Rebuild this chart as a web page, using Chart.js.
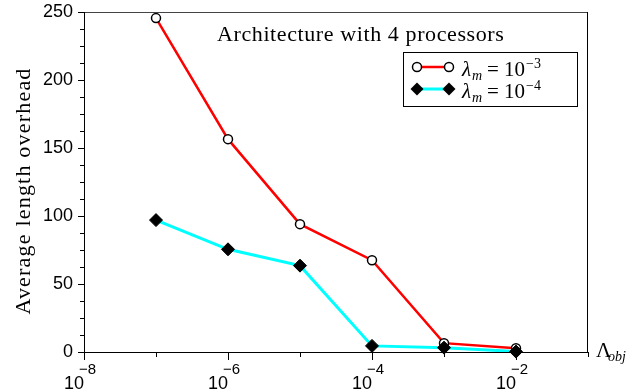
<!DOCTYPE html>
<html>
<head>
<meta charset="utf-8">
<script src="https://cdn.jsdelivr.net/npm/chart.js@4.4.0/dist/chart.umd.min.js"></script>
<style>
  html, body { margin: 0; padding: 0; background: #fff; }
  #c { display: block; }
</style>
</head>
<body>
<canvas id="c" width="630" height="391"></canvas>
<script>
// ---- data ----
const lambdaObj = [1e-7, 1e-6, 1e-5, 1e-4, 1e-3, 1e-2];
const overheadLm3 = [245.5, 156.5, 94, 67.5, 6.5, 2.8];
const overheadLm4 = [97, 75.5, 63.5, 4.5, 3.2, 0.3];
const xTickExponents = [-8, -7, -6, -5, -4, -3, -2, -1];
const xLabelExponents = [-8, -6, -4, -2];
const yTickLabels = [0, 50, 100, 150, 200, 250];
const yMinorStep = 12.5;
const titleText = "Architecture with 4 processors";
const yAxisTitle = "Average length overhead";
const seriesExponents = ["3", "4"];

const SERIF = '"Liberation Serif", "DejaVu Serif", serif';
const SANS = '"Liberation Sans", Arial, sans-serif';

const decor = {
  id: 'decor',
  afterDraw(chart) {
    const ctx = chart.ctx;
    const xs = chart.scales.x, ys = chart.scales.y;
    const a = chart.chartArea;
    ctx.save();
    // frame
    ctx.lineWidth = 1;
    ctx.strokeStyle = '#444';
    ctx.beginPath(); ctx.moveTo(a.left, a.top + 0.5); ctx.lineTo(a.right, a.top + 0.5); ctx.stroke();
    ctx.strokeStyle = '#000';
    ctx.beginPath();
    ctx.moveTo(a.right - 0.5, a.top); ctx.lineTo(a.right - 0.5, a.bottom);
    ctx.moveTo(a.left + 0.5, a.top); ctx.lineTo(a.left + 0.5, a.bottom + 0.5);
    ctx.lineTo(a.right, a.bottom + 0.5);
    ctx.stroke();

    // x ticks
    ctx.beginPath();
    xTickExponents.forEach(e => {
      const px = Math.round(xs.getPixelForValue(Math.pow(10, e))) + 0.5;
      const len = xLabelExponents.includes(e) ? 8 : 5;
      ctx.moveTo(px, a.bottom); ctx.lineTo(px, a.bottom + len);
    });
    // y ticks
    for (let v = ys.min; v <= ys.max + 1e-9; v += yMinorStep) {
      const py = Math.round(ys.getPixelForValue(v)) + 0.5;
      const major = yTickLabels.includes(v);
      ctx.moveTo(a.left, py); ctx.lineTo(a.left - (major ? 6 : 4), py);
    }
    ctx.stroke();

    // x labels
    ctx.fillStyle = '#000';
    xLabelExponents.forEach(e => {
      const px = xs.getPixelForValue(Math.pow(10, e));
      ctx.font = '18px ' + SANS;
      ctx.textAlign = 'right'; ctx.textBaseline = 'alphabetic';
      ctx.fillText('10', px, 389);
      ctx.font = '15px ' + SANS;
      ctx.textAlign = 'left';
      ctx.fillText('\u2212' + Math.abs(e), px - 5, 374);
    });
    // y labels
    ctx.font = '18px ' + SANS;
    ctx.textAlign = 'right'; ctx.textBaseline = 'middle';
    yTickLabels.forEach(v => {
      ctx.fillText(String(v), 73, ys.getPixelForValue(v) + 0.5);
    });

    // y axis title
    ctx.save();
    ctx.translate(24, 191);
    ctx.rotate(-Math.PI / 2);
    ctx.font = '22px ' + SERIF;
    ctx.letterSpacing = '1.2px';
    ctx.textAlign = 'center'; ctx.textBaseline = 'middle';
    ctx.fillText(yAxisTitle, 0, 0);
    ctx.restore();

    // x axis label Lambda_obj
    ctx.textAlign = 'left'; ctx.textBaseline = 'alphabetic';
    ctx.font = '21px ' + SERIF;
    ctx.fillText('\u039B', 596, 357);
    ctx.font = 'italic 14px ' + SERIF;
    ctx.fillText('obj', 608, 361);

    // title
    ctx.save();
    ctx.font = '22px ' + SERIF;
    ctx.letterSpacing = '0.6px';
    ctx.fillText(titleText, 217, 41);
    ctx.restore();

    // legend
    const lx = 403, ly = 52, lw = 174, lh = 54;
    ctx.fillStyle = '#fff';
    ctx.fillRect(lx, ly, lw, lh);
    ctx.strokeStyle = '#000';
    ctx.lineWidth = 1;
    ctx.strokeRect(lx + 0.5, ly + 0.5, lw, lh);
    const rows = [
      { y: 67, color: '#ff0000', lw: 2.5, marker: 'circle', exp: seriesExponents[0], base: 76 },
      { y: 89, color: '#00ffff', lw: 3, marker: 'diamond', exp: seriesExponents[1], base: 98 }
    ];
    rows.forEach(r => {
      ctx.strokeStyle = r.color; ctx.lineWidth = r.lw;
      ctx.beginPath(); ctx.moveTo(417, r.y); ctx.lineTo(449, r.y); ctx.stroke();
      [417, 449].forEach(mx => {
        if (r.marker === 'circle') {
          ctx.beginPath(); ctx.arc(mx, r.y, 4.5, 0, Math.PI * 2);
          ctx.fillStyle = '#fff'; ctx.fill();
          ctx.strokeStyle = '#000'; ctx.lineWidth = 1.5; ctx.stroke();
        } else {
          ctx.beginPath();
          ctx.moveTo(mx, r.y - 6.5); ctx.lineTo(mx + 6.5, r.y);
          ctx.lineTo(mx, r.y + 6.5); ctx.lineTo(mx - 6.5, r.y); ctx.closePath();
          ctx.fillStyle = '#000'; ctx.fill();
        }
      });
      ctx.fillStyle = '#000';
      ctx.textAlign = 'left'; ctx.textBaseline = 'alphabetic';
      ctx.font = 'italic 21px ' + SERIF;
      ctx.fillText('\u03BB', 462, r.base);
      ctx.font = 'italic 14px ' + SERIF;
      ctx.fillText('m', 472, r.base + 4);
      ctx.font = '21px ' + SERIF;
      ctx.fillText('=', 487, r.base);
      ctx.fillText('10', 504, r.base);
      ctx.font = '14px ' + SERIF;
      ctx.fillText('\u2212' + r.exp, 526, r.base - 8);
    });
    ctx.restore();
  }
};

new Chart(document.getElementById('c'), {
  type: 'line',
  data: {
    datasets: [
      {
        label: 'lm4',
        data: lambdaObj.map((x, i) => ({ x, y: overheadLm4[i] })),
        borderColor: '#00ffff',
        borderWidth: 3,
        pointStyle: 'rectRot',
        pointRadius: 6.5,
        pointBackgroundColor: '#000',
        pointBorderColor: '#000',
        pointBorderWidth: 1,
        tension: 0,
        clip: false,
        order: 0
      },
      {
        label: 'lm3',
        data: lambdaObj.map((x, i) => ({ x, y: overheadLm3[i] })),
        borderColor: '#ff0000',
        borderWidth: 2.5,
        pointStyle: 'circle',
        pointRadius: 4.5,
        pointBackgroundColor: '#fff',
        pointBorderColor: '#000',
        pointBorderWidth: 1.5,
        tension: 0,
        clip: false,
        order: 1
      }
    ]
  },
  options: {
    responsive: false,
    animation: false,
    layout: { padding: { left: 84, right: 42, top: 12, bottom: 39 } },
    plugins: { legend: { display: false }, tooltip: { enabled: false } },
    scales: {
      x: { type: 'logarithmic', min: 1e-8, max: 1e-1, display: false },
      y: { type: 'linear', min: 0, max: 250, display: false }
    }
  },
  plugins: [decor]
});
</script>
</body>
</html>
